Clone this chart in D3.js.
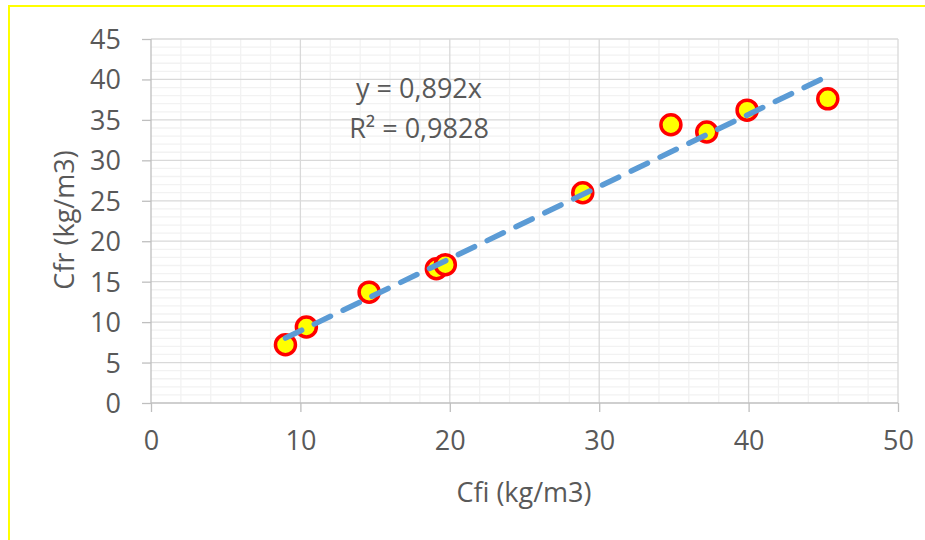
<!DOCTYPE html>
<html>
<head>
<meta charset="utf-8">
<script src="https://cdn.jsdelivr.net/npm/d3@7/dist/d3.min.js"></script>
<style>
  html, body { margin: 0; padding: 0; background: #fff; }
  svg { display: block; }
  text { font-family: "Open Sans", "Noto Sans", sans-serif; fill: #595959; }
</style>
</head>
<body>
<svg id="chart" width="925" height="540"></svg>
<script>
// Measured concentrations (kg/m3)
const cfi = [9.0, 10.4, 14.6, 19.1, 19.7, 28.9, 34.8, 37.2, 39.9, 45.3];
const cfr = [7.2, 9.4, 13.7, 16.6, 17.1, 26.0, 34.4, 33.5, 36.2, 37.6];

// Linear fit through the origin
const slope = 0.892;
const rSquared = "0,9828";
const equationLabel = "y = 0,892x";

const xTicks = [0, 10, 20, 30, 40, 50];
const yTicks = [0, 5, 10, 15, 20, 25, 30, 35, 40, 45];

const svg = d3.select("#chart");
const plotLeft = 151, plotRight = 898, plotTop = 39, plotBottom = 403;
const fontSize = "27px";

const x = d3.scaleLinear().domain([0, 50]).range([plotLeft, plotRight]);
const y = d3.scaleLinear().domain([0, 45]).range([plotBottom, plotTop]);

// Frame around the chart
svg.append("rect")
  .attr("x", 9).attr("y", 6)
  .attr("width", 940).attr("height", 560)
  .attr("fill", "none").attr("stroke", "#ffff00").attr("stroke-width", 2);

// Minor grid
const g = svg.append("g");
g.selectAll("line.minx").data(d3.range(0, 51, 2).filter(v => v % 10 !== 0))
  .join("line")
  .attr("x1", d => x(d)).attr("x2", d => x(d))
  .attr("y1", plotTop).attr("y2", plotBottom)
  .attr("stroke", "#f2f2f2").attr("stroke-width", 1.3);
g.selectAll("line.miny").data(d3.range(0, 46, 1).filter(v => v % 5 !== 0))
  .join("line")
  .attr("x1", plotLeft).attr("x2", plotRight)
  .attr("y1", d => y(d)).attr("y2", d => y(d))
  .attr("stroke", "#f2f2f2").attr("stroke-width", 1.3);

// Major grid
g.selectAll("line.majx").data(xTicks.slice(1))
  .join("line")
  .attr("x1", d => x(d)).attr("x2", d => x(d))
  .attr("y1", plotTop).attr("y2", plotBottom)
  .attr("stroke", "#d9d9d9").attr("stroke-width", 1.3);
g.selectAll("line.majy").data(yTicks.slice(1))
  .join("line")
  .attr("x1", plotLeft).attr("x2", plotRight)
  .attr("y1", d => y(d)).attr("y2", d => y(d))
  .attr("stroke", "#d9d9d9").attr("stroke-width", 1.3);

// Axes
const xAxis = d3.axisBottom(x).tickValues(xTicks).tickSize(9).tickPadding(19).tickFormat(d3.format("d"));
const yAxis = d3.axisLeft(y).tickValues(yTicks).tickSize(9).tickPadding(21).tickFormat(d3.format("d"));

const gx = svg.append("g").attr("transform", `translate(0,${plotBottom})`).call(xAxis);
const gy = svg.append("g").attr("transform", `translate(${plotLeft},0)`).call(yAxis);
[gx, gy].forEach(a => {
  a.select(".domain").attr("stroke", "#bfbfbf").attr("stroke-width", 1.3);
  a.selectAll(".tick line").attr("stroke", "#bfbfbf").attr("stroke-width", 1.3);
  a.selectAll(".tick text").style("font-size", fontSize).attr("fill", "#595959")
    .style("font-family", "'Open Sans', sans-serif");
});
gx.select(".domain").attr("d", `M${plotLeft},0H${plotRight}`);
gy.select(".domain").attr("d", `M0,${plotBottom}V${plotTop}`);
gx.selectAll(".tick text").attr("dy", "0.71em");
gy.selectAll(".tick text").attr("dy", "0.35em");

// Points
const pts = cfi.map((v, i) => ({ x: v, y: cfr[i] }));
svg.append("g").selectAll("circle").data(pts).join("circle")
  .attr("cx", d => x(d.x)).attr("cy", d => y(d.y))
  .attr("r", 10)
  .attr("fill", "#ffff00").attr("stroke", "#ff0000").attr("stroke-width", 3.5);

// Trend line, drawn over the points
const [xMin, xMax] = d3.extent(cfi);
svg.append("line")
  .attr("x1", x(xMin)).attr("y1", y(slope * xMin))
  .attr("x2", x(xMax)).attr("y2", y(slope * xMax))
  .attr("stroke", "#5b9bd5").attr("stroke-width", 5.5)
  .attr("stroke-linecap", "round")
  .attr("stroke-dasharray", "18,14");

// Equation label
svg.append("text").attr("x", 419).attr("y", 98).attr("text-anchor", "middle")
  .style("font-size", fontSize).text(equationLabel);
svg.append("text").attr("x", 419).attr("y", 138).attr("text-anchor", "middle")
  .style("font-size", fontSize).text("R² = " + rSquared);

// Axis titles
svg.append("text").attr("x", 524).attr("y", 502).attr("text-anchor", "middle")
  .style("font-size", fontSize).text("Cfi (kg/m3)");
svg.append("text").attr("transform", "translate(74,220) rotate(-90)")
  .attr("text-anchor", "middle")
  .style("font-size", fontSize).text("Cfr (kg/m3)");
</script>
</body>
</html>
